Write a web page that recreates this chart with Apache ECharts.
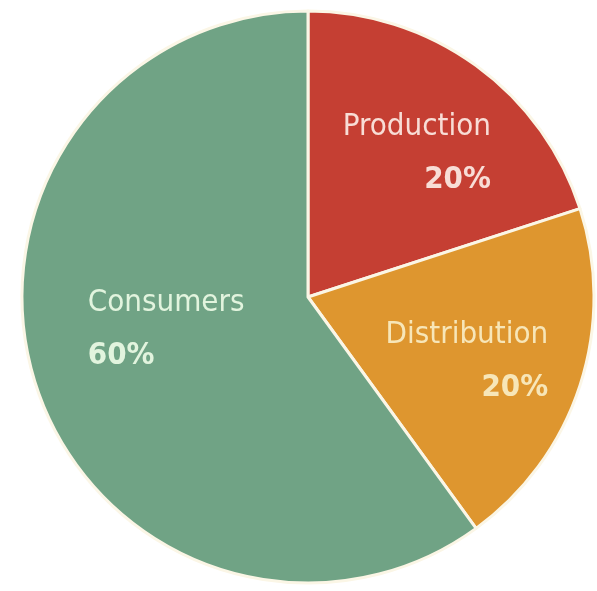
<!DOCTYPE html>
<html>
<head>
<meta charset="utf-8">
<script src="https://cdn.jsdelivr.net/npm/echarts@6/dist/echarts.min.js"></script>
<style>
  html, body { margin: 0; padding: 0; background: #ffffff; }
  #chart { width: 597px; height: 591px; }
</style>
</head>
<body>
<div id="chart"></div>
<script>
// Share of the total by stage
const categories = ['Production', 'Distribution', 'Consumers'];
const shares = [20, 20, 60];
const sliceColors = ['#c53f33', '#de962f', '#70a385'];
const textColors = ['#f8ddd6', '#f7e6b8', '#e2f4de'];
const nameAlign = ['right', 'right', 'left'];
// nudges of each label from its slice's inside anchor
const labelNudge = [[23, -25], [20, 19], [-3, -13]];

const labelFont = '"DejaVu Sans Condensed", "Liberation Sans Narrow", sans-serif';

const chart = echarts.init(document.getElementById('chart'), null, { renderer: 'canvas' });

const data = categories.map((name, i) => ({
  name: name,
  value: shares[i],
  itemStyle: { color: sliceColors[i] },
  label: {
    rich: {
      n: { fontSize: 31, fontFamily: labelFont, color: textColors[i], lineHeight: 53, align: 'left' },
      p: { fontSize: 31, fontWeight: 'bold', fontFamily: labelFont, color: textColors[i], lineHeight: 53, align: nameAlign[i] }
    }
  }
}));

chart.setOption({
  animation: false,
  backgroundColor: '#ffffff',
  series: [{
    type: 'pie',
    center: [308, 297],
    radius: [0, 286],
    startAngle: 90,
    clockwise: true,
    avoidLabelOverlap: false,
    itemStyle: { borderColor: '#fbf6e6', borderWidth: 3 },
    label: {
      show: true,
      position: 'inside',
      formatter: (p) => '{n|' + p.name + '}\n{p|' + p.value + '%}'
    },
    labelLine: { show: false },
    emphasis: { disabled: true },
    labelLayout: (params) => ({ dx: labelNudge[params.dataIndex][0], dy: labelNudge[params.dataIndex][1] }),
    data: data
  }]
});
</script>
</body>
</html>
